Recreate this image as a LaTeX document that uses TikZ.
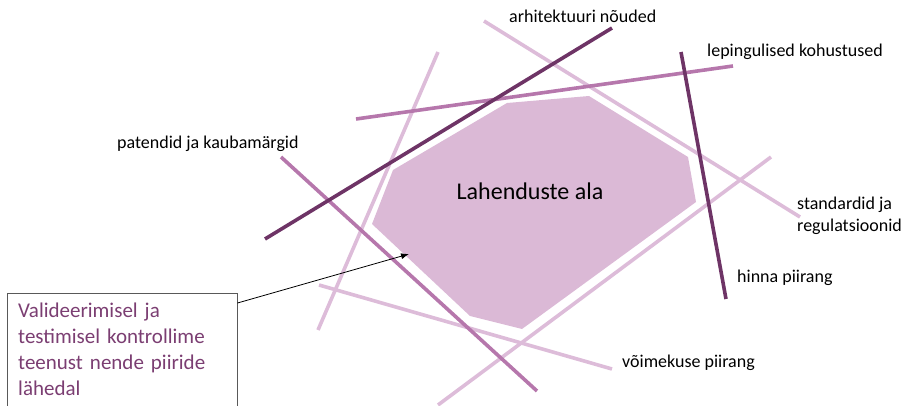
\documentclass[tikz,border=0pt]{standalone}
\usepackage{fontspec}
\setmainfont{Carlito}
\usetikzlibrary{arrows.meta}

\definecolor{plumdark}{HTML}{6E3466}
\definecolor{plummid}{HTML}{B677AC}
\definecolor{plumlight}{HTML}{DDBCD9}
\definecolor{plumfill}{HTML}{DBB9D6}
\definecolor{plumtext}{HTML}{7B3E72}

\begin{document}
\begin{tikzpicture}[x=1pt,y=-1pt,
    limit/.style={line width=3.6pt},
    tag/.style={anchor=west,inner sep=0pt,align=left,
      font=\fontsize{18}{22}\selectfont},
  ]
  \useasboundingbox (0,0) rectangle (905,406);

  % the region that is left over
  \fill[plumfill] (507,103) -- (589,96) -- (688,157) -- (696,202)
    -- (522,329) -- (470,316) -- (372,224) -- (393,170) -- cycle;
  \node[font=\fontsize{24}{28}\selectfont] (ala) at (530,191) {Lahenduste ala};

  % soft limits
  \draw[limit, plumlight] (438,52) -- (318,330);
  \draw[limit, plumlight] (319,285) -- (612,369);
  \draw[limit, plumlight] (771,157) -- (438,405);
  \draw[limit, plumlight] (484,21) -- (800,217);
  % firmer ones
  \draw[limit, plummid] (356,119) -- (733,66);
  \draw[limit, plummid] (281,157) -- (537,391);
  % hard ones
  \draw[limit, plumdark] (265,239) -- (612,28);
  \draw[limit, plumdark] (681,52) -- (726,299);

  \node[tag] (arh) at (509,16) {arhitektuuri nõuded};
  \node[tag] (lep) at (707,52) {lepingulised kohustused};
  \node[tag] (pat) at (117,144) {patendid ja kaubamärgid};
  \node[tag] (std) at (797,216) {standardid ja\\regulatsioonid};
  \node[tag] (hin) at (737,278) {hinna piirang};
  \node[tag] (voi) at (622,363) {võimekuse piirang};

  % note in the corner
  \node[draw=black!65, anchor=north west, text=plumtext, align=left,
    text width=208pt, inner xsep=11pt, inner ysep=10pt,
    font=\fontsize{21}{26}\selectfont] (note) at (7,293)
    {Valideerimisel ja\\testimisel kontrollime\\teenust nende piiride\\lähedal};
  \coordinate (edge) at (409,254);
  \draw[-{Latex[length=8pt,width=6pt]}, line width=0.8pt] (note.22) -- (edge);
\end{tikzpicture}
\end{document}
